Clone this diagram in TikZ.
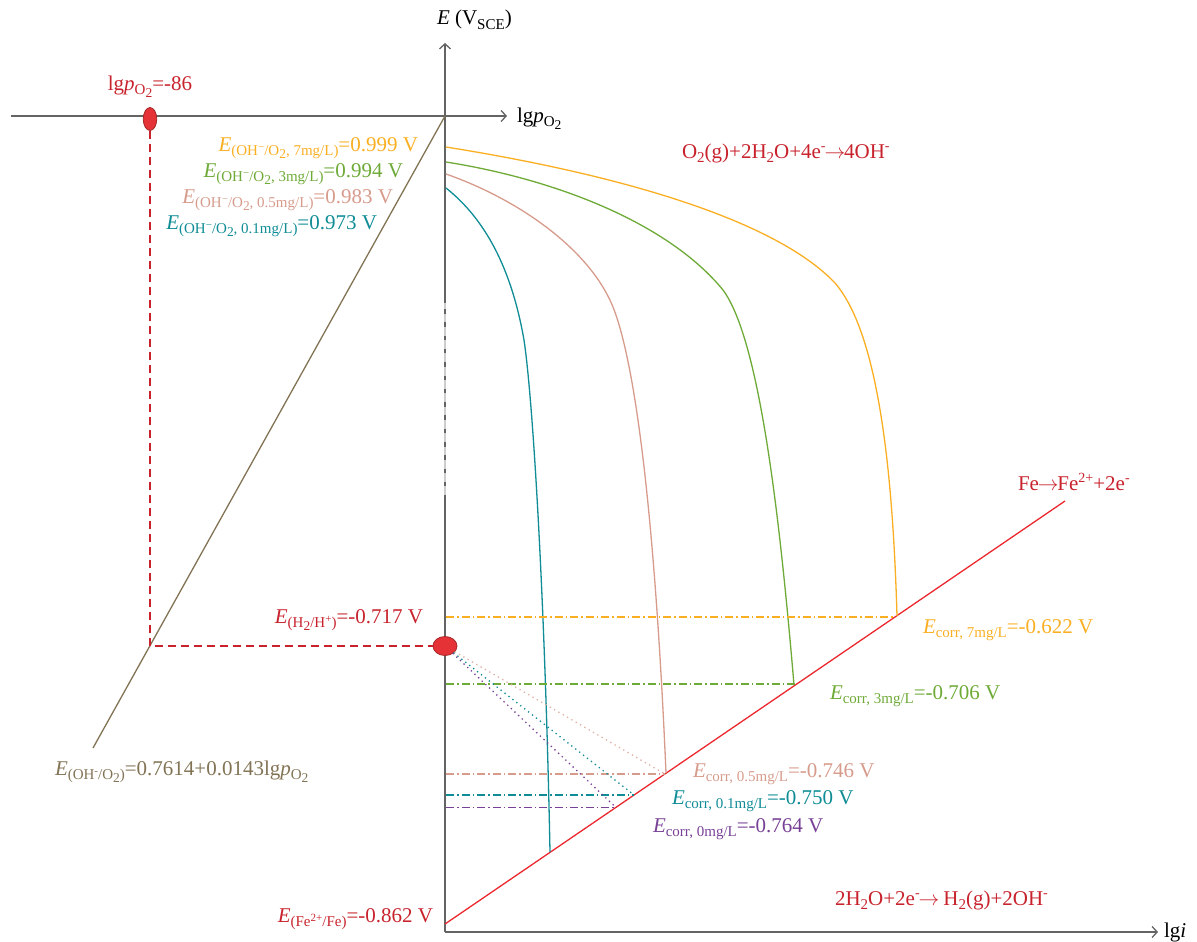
\documentclass[tikz,border=0pt]{standalone}
\usepackage{fontspec}
\setmainfont{Liberation Serif}
\usetikzlibrary{arrows.meta,calc,shapes.geometric}
\definecolor{axisgray}{RGB}{100,100,100}
\definecolor{axislight}{RGB}{205,205,205}
\definecolor{corange}{RGB}{250,175,35}
\definecolor{cgreen}{RGB}{110,170,55}
\definecolor{cpink}{RGB}{215,155,140}
\definecolor{cteal}{RGB}{15,140,150}
\definecolor{cpurple}{RGB}{120,65,150}
\definecolor{credtxt}{RGB}{200,35,45}
\definecolor{credline}{RGB}{235,40,45}
\definecolor{colive}{RGB}{130,115,85}
\definecolor{cellfill}{RGB}{228,50,55}
\definecolor{celldraw}{RGB}{165,40,40}
% subscripts / superscripts with fixed sizes
\newcommand\sbs[1]{\raisebox{-4.5pt}{\fontsize{15}{15}\selectfont #1}}
\newcommand\ssb[1]{\raisebox{-3pt}{\fontsize{13.5}{13.5}\selectfont #1}}
\newcommand\sps[1]{\raisebox{8pt}{\fontsize{14}{14}\selectfont #1}}
\newcommand\ssp[1]{\raisebox{5.5pt}{\fontsize{11}{11}\selectfont #1}}
\newcommand\arr{\ensuremath{\mkern-1mu\rightarrow\mkern-1mu}}
\begin{document}
\begin{tikzpicture}[x=1pt,y=-1pt,
  every node/.style={inner sep=0pt,outer sep=0pt,font=\fontsize{21}{24}\selectfont},
  axisline/.style={draw=axisgray,line width=2pt},
  axisarrow/.style={axisline,-{Straight Barb[length=5pt,width=11pt,line width=1.3pt]}},
  curve/.style={line width=1.3pt},
  dashdot/.style={line width=1.1pt,dash pattern=on 8pt off 3pt on 1.5pt off 3pt},
  dotline/.style={line width=1.3pt,dash pattern=on 1.3pt off 3.7pt},
  reddash/.style={draw=credtxt,line width=1.5pt,dash pattern=on 8pt off 5pt},
  redell/.style={ellipse,draw=celldraw,fill=cellfill,line width=0.8pt},
  lbl/.style={anchor=base west},
  lblr/.style={anchor=base east}
]
\useasboundingbox (0,0) rectangle (1197,942);
% coordinates
\coordinate (Etop) at (445,43);
\coordinate (Ebot) at (445,932);
\coordinate (O) at (445,116);
\coordinate (hl) at (11,116);
\coordinate (hr) at (507,116);
\coordinate (iax) at (1158,932);
\coordinate (brk1) at (445,303);
\coordinate (brk2) at (445,497);
\coordinate (fe0) at (445,924);
\coordinate (fe1) at (1065,501);
\coordinate (oliveEnd) at (93,748);
\coordinate (corner) at (150,646);
% axes
\draw[axisarrow] (Ebot) -- (Etop);
\draw[axisarrow] (hl) -- (hr);
\draw[axisarrow] (Ebot) -- (iax);
\draw[draw=axislight,line width=2pt] (brk1) -- (brk2);
\draw[draw=axisgray,line width=2pt,dash pattern=on 4.5pt off 8.8pt,dash phase=-6pt] (brk1) -- (brk2);
% olive line
\draw[colive,curve] (O) -- (oliveEnd);
% Fe line
\draw[credline,curve] (fe0) -- (fe1);
% polarization curves
\draw[corange,curve] (446,147) .. controls (640,178) and (780,225) .. (835,283) .. controls (880,335) and (893,480) .. (897,616);
\draw[cgreen,curve] (446,162) .. controls (560,180) and (670,225) .. (723,290) .. controls (760,340) and (780,520) .. (794,685);
\draw[cpink,curve] (446,174) .. controls (520,200) and (590,250) .. (613,307) .. controls (636,365) and (655,520) .. (666,773);
\draw[cteal,curve] (446,188) .. controls (480,215) and (510,260) .. (524,340) .. controls (533,400) and (545,600) .. (550,852);
% dash-dot Ecorr lines
\coordinate (dO0) at (446,617); \coordinate (dO1) at (894,617);
\coordinate (dG0) at (446,684); \coordinate (dG1) at (796,684);
\coordinate (dP0) at (446,774); \coordinate (dP1) at (665,774);
\coordinate (dT0) at (446,795); \coordinate (dT1) at (634,795);
\coordinate (dU0) at (446,807.5); \coordinate (dU1) at (616,807.5);
\draw[corange,dashdot] (dO0) -- (dO1);
\draw[cgreen,dashdot] (dG0) -- (dG1);
\draw[cpink,dashdot] (dP0) -- (dP1);
\draw[cteal,dashdot] (dT0) -- (dT1);
\draw[cpurple,dashdot] (dU0) -- (dU1);
% ellipses
\node[redell,minimum width=13.5pt,minimum height=23pt] (p86) at (150,119) {};
\node[redell,minimum width=24pt,minimum height=19pt] (pH) at (445,646) {};
% red dashed projection
\draw[reddash] (p86.south) -- (corner) -- (pH.west);
% dotted lines from H2/H+ point
\draw[cpink!80,dotline] (pH) -- (dP1);
\draw[cteal,dotline] (pH) -- (dT1);
\draw[cpurple,dotline] (pH) -- (dU1);
% labels
\node[lbl] (lEaxis) at (437,25) {\textit{E} (V\sbs{SCE})};
\node[lbl] (lpaxis) at (517,122) {lg\textit{p}\sbs{O\ssb{2}}};
\node[lbl] (liaxis) at (1164,937) {lg\textit{i}};
\node[anchor=base,text=credtxt] (l86) at (150,90) {lg\textit{p}\sbs{O\ssb{2}}=-86};
\node[lblr,text=corange] (lE7) at (418,151) {\textit{E}\sbs{(OH\ssp{−}/O\ssb{2}, 7mg/L)}=0.999 V};
\node[lblr,text=cgreen] (lE3) at (403,177) {\textit{E}\sbs{(OH\ssp{−}/O\ssb{2}, 3mg/L)}=0.994 V};
\node[lblr,text=cpink] (lE05) at (393,203) {\textit{E}\sbs{(OH\ssp{−}/O\ssb{2}, 0.5mg/L)}=0.983 V};
\node[lblr,text=cteal] (lE01) at (377,229) {\textit{E}\sbs{(OH\ssp{−}/O\ssb{2}, 0.1mg/L)}=0.973 V};
\node[lbl,text=credtxt] (lO2) at (682,158) {O\sbs{2}(g)+2H\sbs{2}O+4e\sps{-}\arr4OH\sps{-}};
\node[lblr,text=credtxt] (lH2) at (423,623) {\textit{E}\sbs{(H\ssb{2}/H\ssp{+})}=-0.717 V};
\node[lbl,text=corange] (lc7) at (923,633) {\textit{E}\sbs{corr, 7mg/L}=-0.622 V};
\node[lbl,text=cgreen] (lc3) at (830,699) {\textit{E}\sbs{corr, 3mg/L}=-0.706 V};
\node[lbl,text=cpink] (lc05) at (693,777) {\textit{E}\sbs{corr, 0.5mg/L}=-0.746 V};
\node[lbl,text=cteal] (lc01) at (672,804) {\textit{E}\sbs{corr, 0.1mg/L}=-0.750 V};
\node[lbl,text=cpurple] (lc0) at (653,832) {\textit{E}\sbs{corr, 0mg/L}=-0.764 V};
\node[lbl,text=colive] (lolive) at (55,775) {\textit{E}\sbs{(OH\ssp{-}/O\ssb{2})}=0.7614+0.0143lg\textit{p}\sbs{O\ssb{2}}};
\node[lblr,text=credtxt] (lFe) at (433,922) {\textit{E}\sbs{(Fe\ssp{2+}/Fe)}=-0.862 V};
\node[lbl,text=credtxt] (lH2O) at (835,905) {2H\sbs{2}O+2e\sps{-}\arr{} H\sbs{2}(g)+2OH\sps{-}};
\node[lbl,text=credtxt] (lFeox) at (1018,490) {Fe\arr Fe\sps{2+}+2e\sps{-}};
\end{tikzpicture}
\end{document}
